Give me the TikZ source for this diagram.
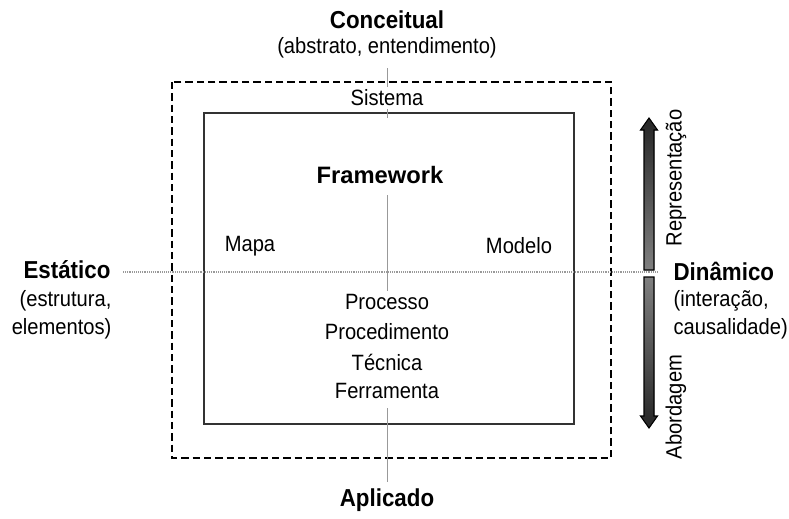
\documentclass[tikz,border=0pt]{standalone}
\usepackage{fontspec}
\setmainfont[FakeStretch=0.91]{Liberation Sans}
\newfontfamily\fwfont{Liberation Sans}
\usetikzlibrary{calc}

\begin{document}
\begin{tikzpicture}[x=0.75pt,y=-0.75pt,
  lbl/.style={font=\fontsize{16.6}{19}\selectfont, inner sep=1pt},
  hdr/.style={font=\fontsize{18.4}{21}\selectfont\bfseries, inner sep=1pt},
  axisline/.style={draw=black!40, line width=0.7pt},
  dotline/.style={draw=black!40, line width=1pt, dash pattern=on 0.7pt off 0.7pt},
  outerbox/.style={draw=black, line width=2pt, dash pattern=on 5.5pt off 3pt},
  innerbox/.style={draw=black!80, line width=1.3pt},
  bararrow/.style={draw=black, line width=0.8pt, top color=black!85, bottom color=black!50}]
\useasboundingbox (0,0) rectangle (789,518);

% frames
\draw[outerbox] (172,82) rectangle (611,458);
\draw[innerbox] (204,113) rectangle (574,424);

% axis anchor points
\coordinate (vt1) at (387,68);
\coordinate (vt2) at (387,118);
\coordinate (hl) at (123,272);
\coordinate (hr) at (658,272);

% vertical axis, top piece
\draw[axisline] (vt1) -- (vt2);

% titles
\node[hdr] (conc) at (387,20) {Conceitual};
\node[lbl] (abs) at (387,48) {(abstrato, entendimento)};
\node[lbl, fill=white, inner sep=2pt] (sis) at (387,98) {Sistema};
\node[font=\fwfont\fontsize{17.8}{20}\selectfont\bfseries, inner sep=1pt] (fw) at (380,175) {Framework};
\node[lbl] (mapa) at (250,246) {Mapa};
\node[lbl] (modelo) at (519,246) {Modelo};

\node[hdr, anchor=east] (est) at (112,270) {Estático};
\node[lbl, anchor=east] (estr) at (113,301) {(estrutura,};
\node[lbl, anchor=east] (elem) at (113,329) {elementos)};

\node[hdr, anchor=west] (din) at (672,271) {Dinâmico};
\node[lbl, anchor=west] (inter) at (672,301) {(interação,};
\node[lbl, anchor=west] (caus) at (672,329) {causalidade)};

\node[lbl] (proc) at (387,302) {Processo};
\node[lbl] (procd) at (387,332) {Procedimento};
\node[lbl] (tec) at (387,362) {Técnica};
\node[lbl] (ferr) at (387,391) {Ferramenta};

\node[hdr] (apl) at (387,500) {Aplicado};

% vertical axis, remaining pieces
\draw[axisline] ($(fw.south)+(7,10)$) -- ($(proc.north)+(0,-2)$);
\draw[axisline] ($(ferr.south)+(0,8)$) -- ($(apl.north)+(0,-5)$);

% horizontal axis
\draw[dotline] (hl) -- (hr);

% double bar arrow on the right
\fill[bararrow] (649,118) -- (657.5,130) -- (654,130) -- (654,270) -- (644,270)
  -- (644,130) -- (640.5,130) -- cycle;
\fill[bararrow, top color=black!50, bottom color=black!85] (649,428) -- (657.5,416)
  -- (654,416) -- (654,277) -- (644,277) -- (644,416) -- (640.5,416) -- cycle;

\node[lbl, rotate=90] (rep) at (676,178) {Representação};
\node[lbl, rotate=90] (abo) at (676,407) {Abordagem};
\end{tikzpicture}
\end{document}
